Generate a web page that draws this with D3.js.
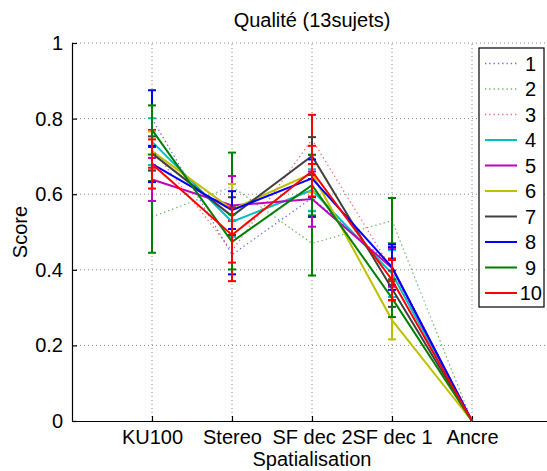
<!DOCTYPE html>
<html>
<head>
<meta charset="utf-8">
<script src="https://cdn.jsdelivr.net/npm/d3@7/dist/d3.min.js"></script>
<style>
  body { margin: 0; background: #fff; }
  svg { display: block; font-family: Arial, "Liberation Sans", sans-serif; }
  .grid line { stroke: #888; stroke-dasharray: 1,3; stroke-width: 1; }
</style>
</head>
<body>
<svg width="547" height="471"></svg>
<script>
// categories on the x axis
var categories = ['KU100', 'Stereo', 'SF dec 2', 'SF dec 1', 'Ancre'];
var yTicks = [0, 0.2, 0.4, 0.6, 0.8, 1];

// one series per subject (means per category)
var s1  = [0.80, 0.44, 0.59, 0.41, 0];
var s2  = [0.54, 0.62, 0.47, 0.53, 0];
var s3  = [0.72, 0.45, 0.745, 0.40, 0];
var s4  = [0.739, 0.527, 0.611, 0.39, 0];
var s5  = [0.639, 0.57, 0.587, 0.405, 0];
var s6  = [0.714, 0.56, 0.655, 0.267, 0];
var s7  = [0.708, 0.542, 0.701, 0.35, 0];
var s8  = [0.68, 0.558, 0.642, 0.407, 0];
var s9  = [0.77, 0.474, 0.624, 0.325, 0];
var s10 = [0.68, 0.492, 0.661, 0.373, 0];

// half-width of the error bars
var e1  = [0.075, 0.052, 0.05, 0.05, 0];
var e2  = [0.095, 0.09, 0.085, 0.06, 0];
var e3  = [0.05, 0.08, 0.065, 0.03, 0];
var e4  = [0.062, 0.04, 0.055, 0.062, 0];
var e5  = [0.057, 0.078, 0.073, 0.05, 0];
var e6  = [0.052, 0.067, 0.05, 0.051, 0];
var e7  = [0.045, 0.05, 0.05, 0.048, 0];
var e8  = [0.048, 0.05, 0.05, 0.06, 0];
var e9  = [0.065, 0.073, 0.08, 0.05, 0];
var e10 = [0.065, 0.073, 0.067, 0.053, 0];

var names  = ['1', '2', '3', '4', '5', '6', '7', '8', '9', '10'];
var colors = ['#0000ff', '#008000', '#ff0000', '#00bfbf', '#bf00bf',
              '#bfbf00', '#404040', '#0000ff', '#008000', '#ff0000'];
var dotted = [true, true, true, false, false, false, false, false, false, false];

var means = [s1, s2, s3, s4, s5, s6, s7, s8, s9, s10];
var errs  = [e1, e2, e3, e4, e5, e6, e7, e8, e9, e10];

var series = names.map(function(n, i) {
    return {
        name: n, color: colors[i], dotted: dotted[i],
        points: means[i].map(function(v, j) { return { x: j + 1, y: v, e: errs[i][j] }; })
    };
});

var svg = d3.select('svg');
var fontSize = 20;

var x = d3.scaleLinear().domain([0, 6]).range([72, 552]);
var y = d3.scaleLinear().domain([0, 1]).range([421, 43]);

// grid
svg.append('g').attr('class', 'grid')
    .selectAll('line').data(yTicks.slice(1)).enter().append('line')
    .attr('x1', x(0)).attr('x2', x(6))
    .attr('y1', function(d) { return y(d); })
    .attr('y2', function(d) { return y(d); });

svg.append('g').attr('class', 'grid')
    .selectAll('line').data([1, 2, 3, 4, 5]).enter().append('line')
    .attr('x1', function(d) { return x(d); })
    .attr('x2', function(d) { return x(d); })
    .attr('y1', y(0)).attr('y2', y(1));

// axes
var xAxis = d3.axisBottom(x)
    .tickValues([1, 2, 3, 4, 5])
    .tickFormat(function(d) { return categories[d - 1]; })
    .tickSizeInner(-5).tickSizeOuter(0).tickPadding(9);

var yAxis = d3.axisLeft(y)
    .tickValues(yTicks)
    .tickFormat(function(d) { return d === 0 || d === 1 ? d : d3.format('.1f')(d); })
    .tickSizeInner(-5).tickSizeOuter(0).tickPadding(9);

svg.append('g').attr('transform', 'translate(0,' + y(0) + ')').call(xAxis);
svg.append('g').attr('transform', 'translate(' + x(0) + ',0)').call(yAxis);

svg.selectAll('.tick text').attr('font-size', fontSize).attr('fill', '#000')
    .attr('font-family', 'Arial, "Liberation Sans", sans-serif');
svg.selectAll('.domain, .tick line').attr('stroke', '#000').attr('stroke-width', 1.2);

// lines + error bars
var line = d3.line()
    .x(function(d) { return x(d.x); })
    .y(function(d) { return y(d.y); });

var g = svg.selectAll('g.series')
    .data(series)
    .enter().append('g')
    .attr('class', 'series');

g.append('path')
    .attr('d', function(d) { return line(d.points); })
    .attr('fill', 'none')
    .attr('stroke', function(d) { return d.color; })
    .attr('stroke-width', function(d) { return d.dotted ? 1.3 : 2; })
    .attr('stroke-dasharray', function(d) { return d.dotted ? '1.3,3' : null; })
    .attr('opacity', function(d) { return d.dotted ? 0.6 : 1; });

g.each(function(s) {
    var eb = d3.select(this).selectAll('g.eb')
        .data(s.points.filter(function(p) { return p.e > 0; }))
        .enter().append('g')
        .attr('stroke', s.color)
        .attr('stroke-width', 2);

    eb.append('line')
        .attr('x1', function(p) { return x(p.x); })
        .attr('x2', function(p) { return x(p.x); })
        .attr('y1', function(p) { return y(p.y - p.e); })
        .attr('y2', function(p) { return y(p.y + p.e); });

    [-1, 1].forEach(function(sgn) {
        eb.append('line')
            .attr('x1', function(p) { return x(p.x) - 4; })
            .attr('x2', function(p) { return x(p.x) + 4; })
            .attr('y1', function(p) { return y(p.y + sgn * p.e); })
            .attr('y2', function(p) { return y(p.y + sgn * p.e); });
    });
});

// title & labels
svg.append('text')
    .attr('x', x(3)).attr('y', 27)
    .attr('text-anchor', 'middle')
    .attr('font-size', fontSize)
    .text('Qualité (13sujets)');

svg.append('text')
    .attr('x', x(3)).attr('y', 466)
    .attr('text-anchor', 'middle')
    .attr('font-size', fontSize)
    .text('Spatialisation');

svg.append('text')
    .attr('transform', 'translate(27,' + y(0.5) + ') rotate(-90)')
    .attr('text-anchor', 'middle')
    .attr('font-size', fontSize)
    .text('Score');

// legend
var legend = svg.append('g').attr('transform', 'translate(479,48)');

legend.append('rect')
    .attr('width', 65).attr('height', 259)
    .attr('fill', '#fff').attr('stroke', '#000').attr('stroke-width', 1.2);

var item = legend.selectAll('g.item')
    .data(series)
    .enter().append('g')
    .attr('transform', function(d, i) { return 'translate(0,' + (15.5 + i * 25.5) + ')'; });

item.append('line')
    .attr('x1', 6).attr('x2', 38)
    .attr('stroke', function(d) { return d.color; })
    .attr('stroke-width', function(d) { return d.dotted ? 1.3 : 2; })
    .attr('stroke-dasharray', function(d) { return d.dotted ? '1.3,3' : null; })
    .attr('opacity', function(d) { return d.dotted ? 0.6 : 1; });

item.append('text')
    .attr('dy', '0.35em')
    .attr('font-size', fontSize)
    .text(function(d) { return d.name; })
    .attr('x', function() {
        // left aligned, but keep wide labels inside the box
        return Math.min(46, 63 - this.getComputedTextLength());
    });
</script>
</body>
</html>
